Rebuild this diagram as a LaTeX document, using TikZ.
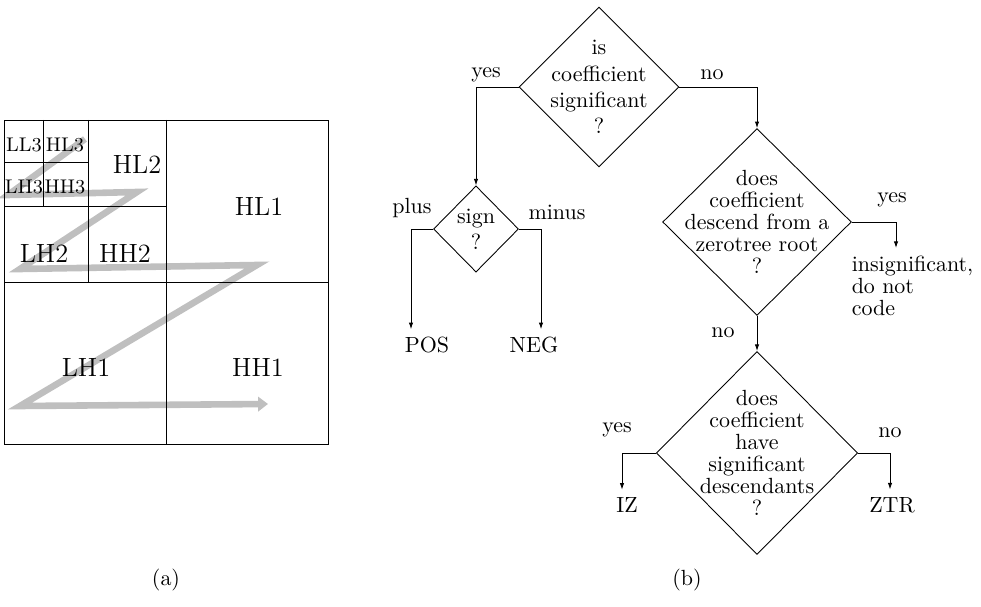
\documentclass[tikz,border=0pt]{standalone}
\usetikzlibrary{shapes.geometric,arrows.meta}
\tikzset{
  dia/.style={draw,shape=diamond,inner sep=0pt,aspect=1},
  zigzag/.style={line width=3pt,black!25,line join=miter,-{Triangle[length=4.5pt,width=6.5pt]}},
  band/.style={font=\large},
  subband/.style={font=\small,inner sep=1pt},
}
\begin{document}
\begin{tikzpicture}[x=0.016cm,y=-0.016cm,>={Latex[length=3pt,width=2pt]}]
  \useasboundingbox (0,0) rectangle (981,607);

  % (a) parcours des sous-bandes
  \draw[zigzag] (85,139) -- (8,195) -- (137,192) -- (20,269) -- (257,265) -- (20,406) -- (268,404);

  % grille des sous-bandes
  \draw (4,120) rectangle (328,444);
  \draw (166,120) -- (166,444);
  \draw (4,282) -- (328,282);
  \draw (88,120) -- (88,282);
  \draw (4,206) -- (166,206);
  \draw (43,120) -- (43,206);
  \draw (4,162) -- (88,162);

  \node[subband] (ll3) at (24,145) {LL3};
  \node[subband] (hl3) at (65,145) {HL3};
  \node[subband] (lh3) at (24,187) {LH3};
  \node[subband] (hh3) at (65,187) {HH3};
  \node[band] (hl2) at (137,165) {HL2};
  \node[band] (lh2) at (44,254) {LH2};
  \node[band] (hh2) at (125,254) {HH2};
  \node[band] (hl1) at (259,207) {HL1};
  \node[band] (lh1) at (86,368) {LH1};
  \node[band] (hh1) at (258,368) {HH1};

  % (b) organigramme
  \node[dia,minimum width=2.56cm,minimum height=2.56cm,
    label={[align=center]center:is\\coefficient\\significant\\?}] (sig) at (599,87) {};
  \node[dia,minimum width=1.36cm,minimum height=1.38cm,
    label={[align=center]center:sign\\?}] (sign) at (476,229) {};
  \node[dia,minimum width=3.02cm,minimum height=2.99cm,
    label={[align=center]center:does\\[-2pt]coefficient\\[-2pt]descend from a\\[-2pt]zerotree root\\[-2pt]?}] (root) at (757,222) {};
  \node[dia,minimum width=3.22cm,minimum height=3.25cm,
    label={[align=center]center:does\\[-2pt]coefficient\\[-2pt]have\\[-2pt]significant\\[-2pt]descendants\\[-2pt]?}] (desc) at (757,453) {};

  \node (pos) at (427,345) {POS};
  \node (neg) at (534,345) {NEG};
  \node (iz) at (627,505) {IZ};
  \node (ztr) at (892,505) {ZTR};
  \node[align=left,anchor=north west] (insig) at (844,248) {insignificant,\\[-2pt]do not\\[-2pt]code};

  \draw[->] (sig.west) -| (sign.north);
  \draw[->] (sig.east) -| (root.north);
  \draw[->] (sign.west) -| (411,0 |- pos.north);
  \draw[->] (sign.east) -| (541,0 |- neg.north);
  \draw[->] (root.east) -| (896,0 |- insig.north);
  \draw[->] (root.south) -- (desc.north);
  \draw[->] (desc.west) -| (622,0 |- iz.north);
  \draw[->] (desc.east) -| (890,0 |- ztr.north);

  % étiquettes des branches
  \node (yes1) at (486,75) {yes};
  \node (no1) at (712,75) {no};
  \node (plus) at (412,208) {plus};
  \node (minus) at (557,212) {minus};
  \node (yes2) at (892,200) {yes};
  \node (no2) at (723,333) {no};
  \node (yes3) at (617,430) {yes};
  \node (no3) at (890,433) {no};

  % légendes
  \node (capa) at (166,580) {(a)};
  \node (capb) at (687,580) {(b)};
\end{tikzpicture}
\end{document}
